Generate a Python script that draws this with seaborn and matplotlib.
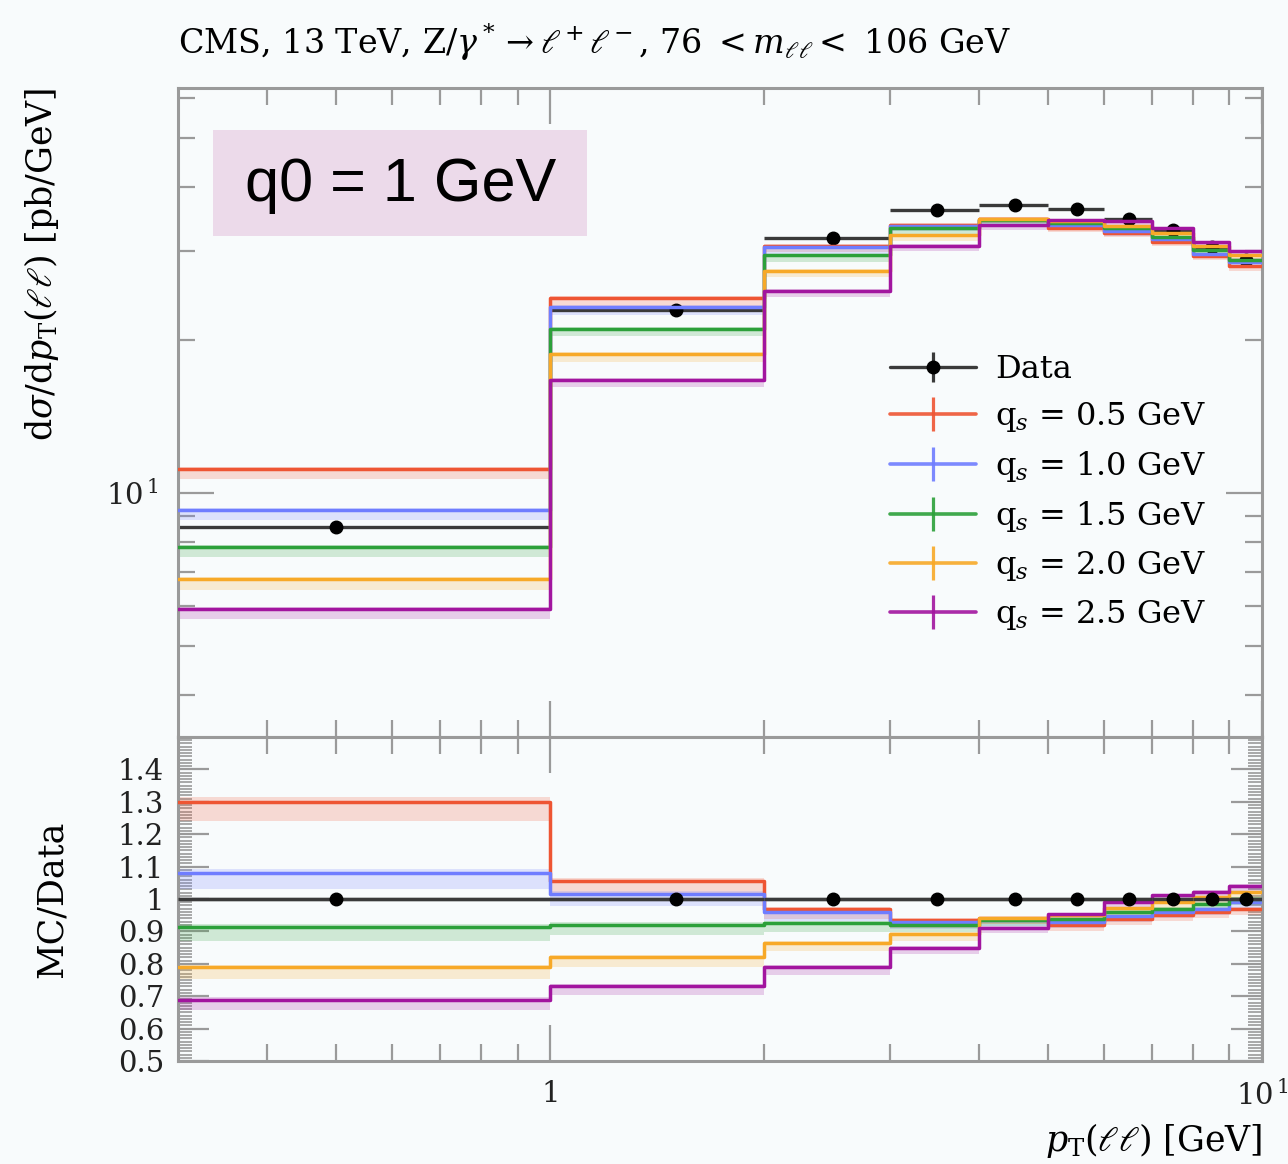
import numpy as np
import pandas as pd
import matplotlib
matplotlib.use("Agg")
import matplotlib.pyplot as plt
import seaborn as sns
from matplotlib.lines import Line2D
from matplotlib.patches import Rectangle
from matplotlib.legend_handler import HandlerTuple
from matplotlib.ticker import FixedLocator, FuncFormatter, MultipleLocator, NullFormatter

# ---------------- data ----------------
bin_edges = [0, 1, 2, 3, 4, 5, 6, 7, 8, 9, 10]
bin_centers = [0.5, 1.5, 2.5, 3.5, 4.5, 5.5, 6.5, 7.5, 8.5, 9.5]
data_vals = [8.57, 22.9, 31.7, 36.1, 36.9, 36.2, 34.6, 32.9, 30.5, 28.8]

mc_labels = ["q$_s$ = 0.5 GeV", "q$_s$ = 1.0 GeV", "q$_s$ = 1.5 GeV",
             "q$_s$ = 2.0 GeV", "q$_s$ = 2.5 GeV"]
mc_qs05 = [11.14, 24.2, 30.7, 33.75, 34.7, 33.3, 32.5, 31.26, 29.28, 27.94]
mc_qs10 = [9.26, 23.24, 30.46, 33.57, 34.5, 33.67, 32.77, 31.58, 29.59, 28.51]
mc_qs15 = [7.82, 21.07, 29.35, 33.21, 34.5, 33.96, 33.22, 31.91, 30.04, 28.8]
mc_qs20 = [6.76, 18.78, 27.39, 32.2, 34.69, 34.39, 33.6, 32.57, 30.65, 29.38]
mc_qs25 = [5.91, 16.72, 25.04, 30.69, 33.65, 34.5, 34.25, 33.29, 31.2, 29.95]
mc_unc = [0.045, 0.035, 0.03, 0.025, 0.02, 0.02, 0.02, 0.02, 0.02, 0.02]

mc_colors = ["#ee5533", "#6f7dff", "#2ca03a", "#f7a928", "#a2159f"]
data_color = "#3a3a3a"
bg = "#f8fbfc"
spine_col = "#9a9a9a"

series = [mc_qs05, mc_qs10, mc_qs15, mc_qs20, mc_qs25]

# ---------------- style ----------------
sns.set_theme(style="ticks")
plt.rcParams["font.family"] = ["DejaVu Serif"]
plt.rcParams["mathtext.fontset"] = "dejavuserif"
plt.rcParams["figure.facecolor"] = bg
plt.rcParams["axes.facecolor"] = bg
plt.rcParams["text.color"] = "black"
plt.rcParams["xtick.labelcolor"] = "#222222"
plt.rcParams["ytick.labelcolor"] = "#222222"

W, H = 1288, 1164
fig = plt.figure(figsize=(W / 100, H / 100), dpi=100)
fig.patch.set_facecolor(bg)

L, R = 178, 1262
T1, B1 = 88, 737
T2, B2 = 737, 1061
ax1 = fig.add_axes([L / W, 1 - B1 / H, (R - L) / W, (B1 - T1) / H])
ax2 = fig.add_axes([L / W, 1 - B2 / H, (R - L) / W, (B2 - T2) / H], sharex=ax1)

xmin, xmax = 0.3, 10.0
edges = np.array(bin_edges, dtype=float)
edges_clip = np.clip(edges, xmin * 0.9999, xmax)
centers = np.array(bin_centers)
dvals = np.array(data_vals)
xlo = np.clip(centers - (edges[:-1]), None, centers - xmin * 0.9999)
xhi = edges[1:] - centers

# long tables for seaborn step lines
rows = []
rows_r = []
for lab, vals in zip(mc_labels, series):
    v = np.array(vals)
    r = v / dvals
    yv = np.append(v, v[-1])
    yr = np.append(r, r[-1])
    for xe, y1, y2 in zip(edges_clip, yv, yr):
        rows.append({"x": xe, "y": y1, "series": lab})
        rows_r.append({"x": xe, "y": y2, "series": lab})
df = pd.DataFrame(rows)
dfr = pd.DataFrame(rows_r)
pal = dict(zip(mc_labels, mc_colors))

unc = np.array(mc_unc)
for lab, vals, c in zip(mc_labels, series, mc_colors):
    v = np.array(vals)
    r = v / dvals
    for ax, y in ((ax1, v), (ax2, r)):
        lo = y * (1 - unc)
        hi = y * (1 + 0.25 * unc)
        ax.fill_between(edges_clip, np.append(lo, lo[-1]), np.append(hi, hi[-1]),
                        step="post", color=c, alpha=0.2, lw=0, zorder=1)

sns.lineplot(data=df, x="x", y="y", hue="series", palette=pal, hue_order=mc_labels,
             drawstyle="steps-post", lw=2.5, legend=False, ax=ax1, zorder=3,
             estimator=None, sort=False)
sns.lineplot(data=dfr, x="x", y="y", hue="series", palette=pal, hue_order=mc_labels,
             drawstyle="steps-post", lw=2.5, legend=False, ax=ax2, zorder=3,
             estimator=None, sort=False)

# data points
ax1.errorbar(centers, dvals, xerr=[xlo, xhi], yerr=dvals * 0.005, fmt="o", color="black",
             ms=9, ecolor=data_color, elinewidth=2.4, capsize=0, zorder=2.5)
ones = np.ones_like(dvals)
ax2.plot([xmin, xmax], [1, 1], color=data_color, lw=2.4, zorder=2.5)
ax2.errorbar(centers, ones, xerr=[xlo, xhi], fmt="o", color="black",
             ms=9, ecolor=data_color, elinewidth=2.4, capsize=0, zorder=5)

# ---------------- axes ----------------
for ax in (ax1, ax2):
    ax.set_xscale("log")
    ax.set_xlim(xmin, xmax)
    for s in ax.spines.values():
        s.set_color(spine_col)
        s.set_linewidth(2.2)
        s.set_visible(True)
    ax.tick_params(which="both", direction="in", top=True, right=True,
                   color=spine_col, width=1.6)
    ax.tick_params(which="major", length=26)
    ax.tick_params(which="minor", length=12)
    ax.set_xlabel("")
    ax.set_ylabel("")
    ax.xaxis.set_major_locator(FixedLocator([1, 10]))
    ax.xaxis.set_minor_locator(FixedLocator([0.4, 0.5, 0.6, 0.7, 0.8, 0.9,
                                             2, 3, 4, 5, 6, 7, 8, 9]))
    ax.xaxis.set_minor_formatter(NullFormatter())

ax1.set_yscale("log")
ax1.set_ylim(3.31, 62.7)
ax1.yaxis.set_major_locator(FixedLocator([10]))
ax1.yaxis.set_minor_locator(FixedLocator([4, 5, 6, 7, 8, 9, 20, 30, 40, 50, 60]))
ax1.yaxis.set_major_formatter(FuncFormatter(lambda v, p: r"$10^{\,1}$"))
ax1.yaxis.set_minor_formatter(NullFormatter())
ax1.tick_params(axis="x", labelbottom=False)
ax1.tick_params(axis="y", labelsize=21, pad=14)

ax2.set_ylim(0.5, 1.5)
ax2.yaxis.set_major_locator(FixedLocator([0.5, 0.6, 0.7, 0.8, 0.9, 1.0, 1.1, 1.2, 1.3, 1.4]))
ax2.yaxis.set_minor_locator(MultipleLocator(0.01))
ax2.yaxis.set_major_formatter(FuncFormatter(lambda v, p: "%g" % round(v, 2)))
ax2.tick_params(axis="y", which="major", length=22, labelsize=21, pad=10)
ax2.tick_params(axis="y", which="minor", length=10, width=1.2)
ax2.xaxis.set_major_formatter(FuncFormatter(lambda v, p: "1" if abs(v - 1) < 1e-6 else r"$10^{\,1}$"))
ax2.tick_params(axis="x", labelsize=21, pad=14)

# ---------------- labels ----------------
fig.text(L / W, 1 - 42 / H,
         r"CMS, 13 TeV, Z$/\gamma^* \rightarrow \ell^+\ell^-$, 76 $< m_{\ell\ell} <$ 106 GeV",
         fontsize=24, va="center", ha="left")
fig.text(42 / W, 1 - 88 / H, r"d$\sigma$/d$p_\mathrm{T}(\ell\ell)$ [pb/GeV]",
         rotation=90, fontsize=25, va="top", ha="center")
fig.text(52 / W, 1 - 899 / H, "MC/Data", rotation=90, fontsize=25, va="center", ha="center")
fig.text(R / W, 1 - 1140 / H, r"$p_\mathrm{T}(\ell\ell)$ [GeV]", fontsize=25,
         va="center", ha="right")

# annotation box
fig.add_artist(Rectangle((213 / W, 1 - 236 / H), (587 - 213) / W, (236 - 130) / H,
                         transform=fig.transFigure, facecolor="#ecdaea", edgecolor="none",
                         zorder=4))
fig.text(401 / W, 1 - 185 / H, "q0 = 1 GeV", fontsize=44, family="Liberation Sans",
         color="black", ha="center", va="center", zorder=5)

# legend
handles = [(Line2D([], [], color=data_color, lw=2.4, marker="|", ms=22, mew=2.3),
            Line2D([], [], color="black", lw=0, marker="o", ms=9))]
for c in mc_colors:
    handles.append(Line2D([], [], color=c, lw=2.6, marker="|", ms=24, mew=2.3, alpha=0.9))
leg = fig.legend(handles, ["Data"] + mc_labels, loc="upper left",
                 bbox_to_anchor=(874 / W, 1 - 338 / H), frameon=False, fontsize=23,
                 handlelength=2.7, handletextpad=0.6, labelspacing=0.47, borderpad=0,
                 numpoints=1, handler_map={tuple: HandlerTuple(ndivide=1)})

fig.savefig("out.png", dpi=100, facecolor=bg)
